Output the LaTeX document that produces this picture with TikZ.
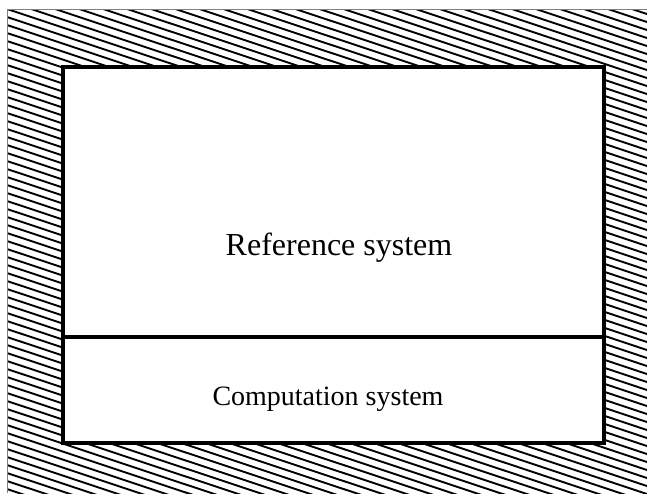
\documentclass[tikz,border=0pt]{standalone}
\usepackage{fontspec}
\setmainfont{Liberation Serif}
\usetikzlibrary{positioning}

\begin{document}
\begin{tikzpicture}[
			x=1pt, y=-1pt,
			hatch/.style={line width=1.9pt, black},
			frameline/.style={line width=3.4pt, black},
			every node/.style={inner sep=0pt}
			]
			\useasboundingbox (0,0) rectangle (647,493);
			
			% hatched surroundings
			\begin{scope}
				\clip (7,9) rectangle (647,493);
				\foreach \i in {-215,-207,...,500}
					\draw[hatch] (7,\i) -- (650,\i+214);
			\end{scope}
			\draw[gray, line width=0.8pt] (7,493) -- (7,9) -- (647,9);
			
			% the two systems
			\draw[frameline, fill=white] (63,67) rectangle (604,443);
			\draw[frameline] (63,337) -- (604,337);
			
			\node[anchor=base, font=\fontsize{32}{36}\selectfont] (refsys) at (339,255) {Reference system};
			\node[anchor=base, font=\fontsize{28}{32}\selectfont] (compsys) at (328,405) {Computation system};
		\end{tikzpicture}
\end{document}
